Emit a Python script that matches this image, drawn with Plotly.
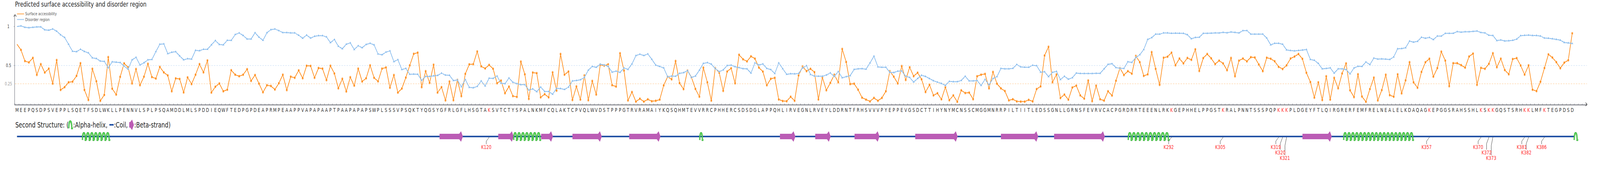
import plotly.graph_objects as go

# ---- data ------------------------------------------------------------------
sequence = (
    "MEEPQSDPSVEPPLSQETFSDLWKLLPENNVLSPLPSQAMDDLMLSPDDIEQWFTEDPGPDEAPRMPEAA"
    "PPVAPAPAAPTPAAPAPAPSWPLSSSVPSQKTYQGSYGFRLGFLHSGTAKSVTCTYSPALNKMFCQLAKT"
    "CPVQLWVDSTPPPGTRVRAMAIYKQSQHMTEVVRRCPHHERCSDSDGLAPPQHLIRVEGNLRVEYLDDRN"
    "TFRHSVVVPYEPPEVGSDCTTIHYNYMCNSSCMGGMNRRPILTIITLEDSSGNLLGRNSFEVRVCACPGR"
    "DRRTEEENLRKKGEPHHELPPGSTKRALPNNTSSSPQPKKKPLDGEYFTLQIRGRERFEMFRELNEALEL"
    "KDAQAGKEPGGSRAHSSHLKSKKGQSTSRHKKLMFKTEGPDSD"
)

surface = [
    0.773, 0.700, 0.557, 0.540, 0.598, 0.380, 0.518, 0.410, 0.460, 0.268,
    0.570, 0.187, 0.223, 0.285, 0.293, 0.367, 0.530, 0.187, 0.058, 0.458,
    0.298, 0.047, 0.123, 0.608, 0.203, 0.127, 0.355, 0.528, 0.477, 0.270,
    0.455, 0.248, 0.357, 0.522, 0.352, 0.333, 0.482, 0.412, 0.373, 0.170,
    0.335, 0.328, 0.155, 0.348, 0.262, 0.382, 0.518, 0.412, 0.565, 0.153,
    0.228, 0.270, 0.170, 0.190, 0.440, 0.382, 0.363, 0.382, 0.453, 0.303,
    0.378, 0.268, 0.157, 0.247, 0.238, 0.192, 0.273, 0.382, 0.185, 0.357,
    0.343, 0.438, 0.337, 0.497, 0.495, 0.343, 0.468, 0.460, 0.313, 0.497,
    0.398, 0.208, 0.330, 0.167, 0.350, 0.242, 0.460, 0.295, 0.337, 0.502,
    0.343, 0.297, 0.460, 0.475, 0.215, 0.378, 0.153, 0.205, 0.345, 0.502,
    0.650, 0.665, 0.223, 0.427, 0.277, 0.510, 0.153, 0.223, 0.053, 0.295,
    0.055, 0.317, 0.107, 0.393, 0.515, 0.517, 0.680, 0.490, 0.462, 0.508,
    0.458, 0.273, 0.307, 0.145, 0.230, 0.108, 0.098, 0.550, 0.387, 0.072,
    0.410, 0.402, 0.092, 0.133, 0.092, 0.412, 0.178, 0.648, 0.382, 0.423,
    0.058, 0.232, 0.063, 0.373, 0.055, 0.302, 0.128, 0.507, 0.498, 0.515,
    0.248, 0.230, 0.657, 0.435, 0.052, 0.160, 0.037, 0.075, 0.037, 0.067,
    0.042, 0.048, 0.063, 0.245, 0.357, 0.323, 0.558, 0.275, 0.197, 0.437,
    0.348, 0.200, 0.100, 0.473, 0.285, 0.050, 0.468, 0.407, 0.175, 0.423,
    0.465, 0.272, 0.638, 0.580, 0.553, 0.618, 0.588, 0.473, 0.422, 0.247,
    0.330, 0.342, 0.065, 0.045, 0.042, 0.100, 0.048, 0.373, 0.487, 0.428,
    0.458, 0.415, 0.065, 0.348, 0.183, 0.277, 0.382, 0.285, 0.712, 0.545,
    0.262, 0.267, 0.190, 0.088, 0.062, 0.040, 0.085, 0.048, 0.085, 0.170,
    0.427, 0.357, 0.270, 0.493, 0.315, 0.478, 0.363, 0.408, 0.323, 0.160,
    0.253, 0.117, 0.145, 0.067, 0.223, 0.055, 0.117, 0.035, 0.182, 0.147,
    0.153, 0.068, 0.362, 0.382, 0.392, 0.207, 0.418, 0.267, 0.207, 0.173,
    0.053, 0.068, 0.040, 0.037, 0.037, 0.060, 0.040, 0.198, 0.232, 0.628,
    0.740, 0.285, 0.385, 0.083, 0.128, 0.062, 0.218, 0.242, 0.117, 0.075,
    0.308, 0.043, 0.242, 0.068, 0.050, 0.170, 0.115, 0.305, 0.468, 0.378,
    0.428, 0.395, 0.623, 0.543, 0.367, 0.387, 0.672, 0.457, 0.252, 0.600,
    0.613, 0.665, 0.503, 0.590, 0.527, 0.597, 0.573, 0.708, 0.430, 0.595,
    0.648, 0.592, 0.518, 0.563, 0.527, 0.440, 0.597, 0.362, 0.562, 0.590,
    0.553, 0.607, 0.603, 0.513, 0.428, 0.600, 0.587, 0.555, 0.483, 0.455,
    0.502, 0.590, 0.615, 0.648, 0.585, 0.407, 0.288, 0.088, 0.285, 0.057,
    0.362, 0.063, 0.342, 0.208, 0.398, 0.527, 0.182, 0.095, 0.388, 0.103,
    0.035, 0.198, 0.345, 0.052, 0.185, 0.382, 0.120, 0.100, 0.387, 0.143,
    0.310, 0.543, 0.285, 0.215, 0.418, 0.542, 0.587, 0.357, 0.467, 0.678,
    0.563, 0.235, 0.530, 0.530, 0.505, 0.473, 0.615, 0.653, 0.252, 0.470,
    0.458, 0.522, 0.658, 0.478, 0.588, 0.442, 0.388, 0.583, 0.595, 0.500,
    0.383, 0.502, 0.190, 0.172, 0.292, 0.468, 0.643, 0.602, 0.543, 0.465,
    0.537, 0.568, 0.913,
]

disorder = [
    1.000, 1.007, 0.990, 0.985, 0.990, 0.995, 0.995, 0.957, 0.953, 0.968,
    0.940, 0.893, 0.860, 0.773, 0.682, 0.677, 0.708, 0.680, 0.662, 0.598,
    0.590, 0.557, 0.553, 0.470, 0.547, 0.543, 0.538, 0.493, 0.453, 0.572,
    0.605, 0.507, 0.535, 0.573, 0.577, 0.678, 0.773, 0.777, 0.652, 0.670,
    0.677, 0.623, 0.573, 0.587, 0.582, 0.695, 0.690, 0.708, 0.708, 0.765,
    0.820, 0.770, 0.765, 0.823, 0.822, 0.897, 0.917, 0.885, 0.840, 0.840,
    0.920, 0.863, 0.823, 0.920, 0.960, 0.968, 0.947, 0.922, 0.922, 0.918,
    0.918, 0.888, 0.850, 0.890, 0.852, 0.875, 0.883, 0.883, 0.867, 0.793,
    0.833, 0.747, 0.715, 0.773, 0.790, 0.705, 0.753, 0.728, 0.770, 0.785,
    0.765, 0.648, 0.638, 0.672, 0.687, 0.550, 0.575, 0.448, 0.463, 0.387,
    0.390, 0.388, 0.310, 0.360, 0.360, 0.367, 0.373, 0.402, 0.377, 0.375,
    0.307, 0.315, 0.227, 0.320, 0.220, 0.215, 0.232, 0.302, 0.237, 0.337,
    0.335, 0.365, 0.272, 0.267, 0.340, 0.285, 0.267, 0.255, 0.255, 0.185,
    0.200, 0.165, 0.223, 0.167, 0.167, 0.132, 0.207, 0.205, 0.193, 0.223,
    0.302, 0.308, 0.317, 0.347, 0.440, 0.488, 0.477, 0.517, 0.507, 0.488,
    0.415, 0.428, 0.412, 0.468, 0.450, 0.520, 0.627, 0.645, 0.628, 0.648,
    0.580, 0.505, 0.488, 0.470, 0.355, 0.365, 0.362, 0.400, 0.408, 0.435,
    0.347, 0.365, 0.440, 0.527, 0.537, 0.518, 0.460, 0.422, 0.443, 0.500,
    0.505, 0.485, 0.473, 0.460, 0.457, 0.403, 0.533, 0.507, 0.520, 0.462,
    0.448, 0.397, 0.533, 0.458, 0.387, 0.395, 0.393, 0.398, 0.468, 0.498,
    0.385, 0.365, 0.362, 0.362, 0.378, 0.405, 0.360, 0.423, 0.343, 0.357,
    0.370, 0.450, 0.457, 0.460, 0.453, 0.533, 0.620, 0.482, 0.477, 0.478,
    0.412, 0.410, 0.427, 0.430, 0.362, 0.347, 0.288, 0.333, 0.375, 0.360,
    0.332, 0.305, 0.287, 0.270, 0.245, 0.297, 0.293, 0.293, 0.308, 0.362,
    0.303, 0.303, 0.307, 0.245, 0.322, 0.253, 0.333, 0.357, 0.462, 0.457,
    0.457, 0.463, 0.513, 0.482, 0.478, 0.477, 0.503, 0.498, 0.415, 0.420,
    0.357, 0.413, 0.425, 0.320, 0.362, 0.325, 0.343, 0.403, 0.398, 0.397,
    0.397, 0.397, 0.400, 0.400, 0.457, 0.515, 0.523, 0.473, 0.465, 0.462,
    0.548, 0.540, 0.602, 0.638, 0.705, 0.835, 0.857, 0.902, 0.902, 0.918,
    0.918, 0.913, 0.915, 0.913, 0.912, 0.895, 0.843, 0.860, 0.862, 0.912,
    0.912, 0.915, 0.918, 0.917, 0.925, 0.920, 0.930, 0.925, 0.918, 0.947,
    0.948, 0.902, 0.902, 0.902, 0.903, 0.852, 0.765, 0.785, 0.785, 0.773,
    0.700, 0.692, 0.687, 0.693, 0.698, 0.705, 0.577, 0.567, 0.527, 0.457,
    0.462, 0.470, 0.402, 0.457, 0.457, 0.448, 0.393, 0.468, 0.490, 0.488,
    0.545, 0.512, 0.595, 0.582, 0.585, 0.582, 0.577, 0.610, 0.715, 0.717,
    0.727, 0.813, 0.800, 0.810, 0.862, 0.850, 0.860, 0.832, 0.878, 0.877,
    0.912, 0.912, 0.913, 0.935, 0.927, 0.933, 0.933, 0.937, 0.942, 0.923,
    0.918, 0.888, 0.885, 0.820, 0.827, 0.815, 0.817, 0.823, 0.838, 0.883,
    0.887, 0.890, 0.885, 0.885, 0.878, 0.852, 0.850, 0.843, 0.835, 0.825,
    0.795, 0.790, 0.782,
]

# modified lysines (shown in red, with labels under the structure track)
modified_sites = [120, 292, 305, 319, 320, 321, 357, 370, 372, 373, 381, 382, 386]

# secondary structure: type, start, end (residue positions as drawn)
ss_type = ['H', 'E', 'E', 'H', 'E', 'E', 'E', 'H', 'E', 'E', 'E', 'E', 'E', 'E', 'H', 'E', 'H', 'H']
ss_start = [17.5, 107.5, 122.3, 126.2, 133.1, 141.0, 155.3, 173.1, 193.3, 202.2,
            212.1, 227.4, 249.0, 262.4, 281.1, 325.0, 335.4, 393.5]
ss_end = [24.5, 113.4, 126.2, 133.1, 136.1, 148.4, 163.2, 174.0, 197.2, 206.1,
          218.4, 238.1, 258.4, 275.2, 291.5, 332.4, 353.1, 394.5]
coil_start, coil_end = 1.0, 393.5

# threshold lines / y labels
ytick_vals = [0.266, 0.5, 1.0]
ytick_text = ['0.25', '0.5', '1']

# ---- layout helpers ---------------------------------------------------------
W, H = 5646, 500
ML, MR, MT, MB = 53, 46, 38, 0
PW = W - ML - MR
PH = H - MT - MB
FONT = 'DejaVu Sans'
AXIS = '#6E7079'
ORANGE = '#ff8000'
BLUE = '#7cb5ec'
RED = '#ff3030'
COIL = '#2453a5'
BETA = '#bb5cb5'
Y_SPLIT = (H - 268) / PH


def paper_x(p):
    return (p - ML) / PW


def paper_y(p):
    return (H - p) / PH


def res_x(p):
    # pixel column -> residue coordinate (residue 1 sits at x=60, 14 px apart)
    return 1 + (p - 60) / 14.0


def helix_shapes(x0, x1, yc=0.0):
    out = []
    n = max(1, int(round((x1 - x0))))
    tw = (x1 - x0) / n
    for k in range(n):
        a = x0 + k * tw
        b = a + 0.72 * tw
        path = (f"M {a},{yc - 9} C {a},{yc + 15} {b},{yc + 15} {b},{yc - 9} "
                f"L {a + tw},{yc - 9}")
        for col, w in (('#138a13', 4.5), ('#34d034', 2.8), ('#c9f9c9', 0.9)):
            out.append(dict(type='path', xref='x', yref='y2', path=path,
                            line=dict(color=col, width=w)))
    return out


def beta_shape(x0, x1, yc=0.0):
    hl = 13.3 / 14.0
    xb = x1 - hl
    pts = [(x0, yc + 7), (xb, yc + 7), (xb + 0.5 * hl, yc + 13.5), (x1, yc),
           (xb + 0.5 * hl, yc - 13.5), (xb, yc - 7), (x0, yc - 7)]
    path = 'M ' + ' L '.join(f'{x},{y}' for x, y in pts) + ' Z'
    return dict(type='path', xref='x', yref='y2', path=path,
                fillcolor=BETA, line=dict(width=0))


residues = list(range(1, len(sequence) + 1))
ticktext = [f"<span style='color:{RED}'>{aa}</span>" if i in modified_sites else aa
            for i, aa in zip(residues, sequence)]

sizes_c = [0] + [7.5] * (len(surface) - 1)
sizes_t = [0] + [8.5] * (len(disorder) - 1)

fig = go.Figure()
fig.add_trace(go.Scatter(x=residues, y=surface, mode='lines+markers',
                         line=dict(color=ORANGE, width=2),
                         marker=dict(symbol='circle', size=sizes_c, color=ORANGE),
                         showlegend=False, hoverinfo='skip'))
fig.add_trace(go.Scatter(x=residues, y=disorder, mode='lines+markers',
                         line=dict(color=BLUE, width=2),
                         marker=dict(symbol='triangle-up', size=sizes_t, color=BLUE),
                         showlegend=False, hoverinfo='skip'))
# coil backbone of the structure track
fig.add_trace(go.Scatter(x=[coil_start, coil_end], y=[0, 0], yaxis='y2', mode='lines',
                         line=dict(color=COIL, width=4), showlegend=False, hoverinfo='skip'))

shapes = []
annotations = []

# dashed thresholds
for v, col in ((ytick_vals[0], '#ffd7ad'), (ytick_vals[1], '#d3e5f8')):
    shapes.append(dict(type='line', xref='paper', yref='y', x0=0, x1=1, y0=v, y1=v,
                       line=dict(color=col, width=1.5, dash='5px,4px'), layer='below'))

# axis arrows
shapes.append(dict(type='path', xref='paper', yref='paper',
                   path=f"M {paper_x(48.5)},{paper_y(42.5)} L {paper_x(53)},{paper_y(37.5)} "
                        f"L {paper_x(57.5)},{paper_y(42.5)}",
                   line=dict(color='#222', width=1.2)))
shapes.append(dict(type='path', xref='paper', yref='paper',
                   path=f"M {paper_x(5595)},{paper_y(263)} L {paper_x(5600.5)},{paper_y(267.5)} "
                        f"L {paper_x(5595)},{paper_y(272)}",
                   line=dict(color='#222', width=1.2)))

# y labels
for v, t, col in zip(ytick_vals, ytick_text, ['#999999', '#333333', '#333333']):
    annotations.append(dict(xref='paper', yref='y', x=paper_x(30), y=v, text=t,
                            showarrow=False, xanchor='center', yanchor='middle',
                            font=dict(family=FONT, size=11.5, color=col)))

# title
annotations.append(dict(xref='paper', yref='paper', x=paper_x(51), y=paper_y(10),
                        text='Predicted surface accessibility and disorder region',
                        showarrow=False, xanchor='left', yanchor='middle',
                        font=dict(family=FONT, size=18.4, color='#222')))

# top legend
for yy, col, name in ((35.7, '#ffb366', 'Surface accessbility'),
                      (50.0, '#a9cdf0', 'Disorder region')):
    shapes.append(dict(type='line', xref='paper', yref='paper',
                       x0=paper_x(60), x1=paper_x(85), y0=paper_y(yy), y1=paper_y(yy),
                       line=dict(color=col, width=2.5)))
    annotations.append(dict(xref='paper', yref='paper', x=paper_x(87), y=paper_y(yy),
                            text=name, showarrow=False, xanchor='left', yanchor='middle',
                            font=dict(family=FONT, size=11.2, color='#555')))

# structure legend
ly = 30
for px0, txt in ((51.5, 'Second Structure: ('), (256, ':Alpha-helix,'),
                 (400, ':Coil,'), (471.5, ':Beta-strand)')):
    annotations.append(dict(xref='paper', yref='y2', x=paper_x(px0), y=ly, text=txt,
                            showarrow=False, xanchor='left', yanchor='middle',
                            font=dict(family=FONT, size=19.4, color='#222')))
shapes += helix_shapes(res_x(242.7), res_x(257.3), ly)
shapes.append(dict(type='line', xref='x', yref='y2', x0=res_x(386), x1=res_x(401),
                   y0=ly, y1=ly, line=dict(color=COIL, width=4)))
shapes.append(beta_shape(res_x(456), res_x(472.7), ly))

# structure elements
for t, a, b in zip(ss_type, ss_start, ss_end):
    if t == 'H':
        shapes += helix_shapes(a, b)
    else:
        shapes.append(beta_shape(a, b))

# modified-site labels with leader lines, stacked when crowded
lead_dx = [-10, -8.3, -5.7]
lead_bend = [12, 18.3, 23.3]
lab_y = [26.7, 40.7, 55.0]
level = 0
prev = None
for s in modified_sites:
    level = level + 1 if (prev is not None and s - prev <= 2) else 0
    prev = s
    xl = s + lead_dx[level] / 14.0
    shapes.append(dict(type='path', xref='x', yref='y2',
                       path=f"M {s},-2 L {xl},{-lead_bend[level]} L {xl},{-(lab_y[level] - 7)}",
                       line=dict(color='#333', width=1)))
    annotations.append(dict(xref='x', yref='y2', x=xl, y=-lab_y[level], text=f'K{s}',
                            showarrow=False, xanchor='center', yanchor='middle',
                            font=dict(family=FONT, size=14, color=RED)))

fig.update_layout(
    width=W, height=H,
    margin=dict(l=ML, r=MR, t=MT, b=MB, pad=0),
    paper_bgcolor='white', plot_bgcolor='white',
    font=dict(family=FONT),
    showlegend=False,
    xaxis=dict(range=[0.5, res_x(5600)], showline=True, linecolor=AXIS, linewidth=1.5,
               tickmode='array', tickvals=residues, ticktext=ticktext, ticks='',
               tickangle=0, tickfont=dict(family=FONT, size=14, color='#333'),
               showgrid=False, zeroline=False, automargin=False, fixedrange=True,
               minor=dict(tickmode='linear', tick0=0.5, dtick=1, ticks='inside',
                          ticklen=3, tickwidth=1, tickcolor=AXIS, showgrid=False)),
    yaxis=dict(domain=[Y_SPLIT, 1], range=[0, 1.15], showline=True, linecolor=AXIS,
               linewidth=1.5, tickmode='array', tickvals=ytick_vals[1:], ticks='outside',
               ticklen=3, tickcolor=AXIS, showticklabels=False, showgrid=False,
               zeroline=False, automargin=False, fixedrange=True),
    yaxis2=dict(domain=[0, Y_SPLIT], range=[-150, 82], visible=False,
                anchor='x', fixedrange=True),
    shapes=shapes,
    annotations=annotations,
)

# drop the default page margin; if the window is narrower than the chart,
# squeeze it horizontally so the whole sequence stays on screen
fit_js = """
document.body.style.margin = '0';
document.documentElement.style.overflow = 'hidden';
document.body.style.overflow = 'hidden';
var gd = document.getElementById('{plot_id}');
var s = window.innerWidth / %d;
if (s < 1) {
    gd.style.transformOrigin = '0 0';
    gd.style.transform = 'scale(' + s + ', 1)';
}
""" % W

fig.write_html("out.html", config={'displayModeBar': False}, post_script=fit_js)
